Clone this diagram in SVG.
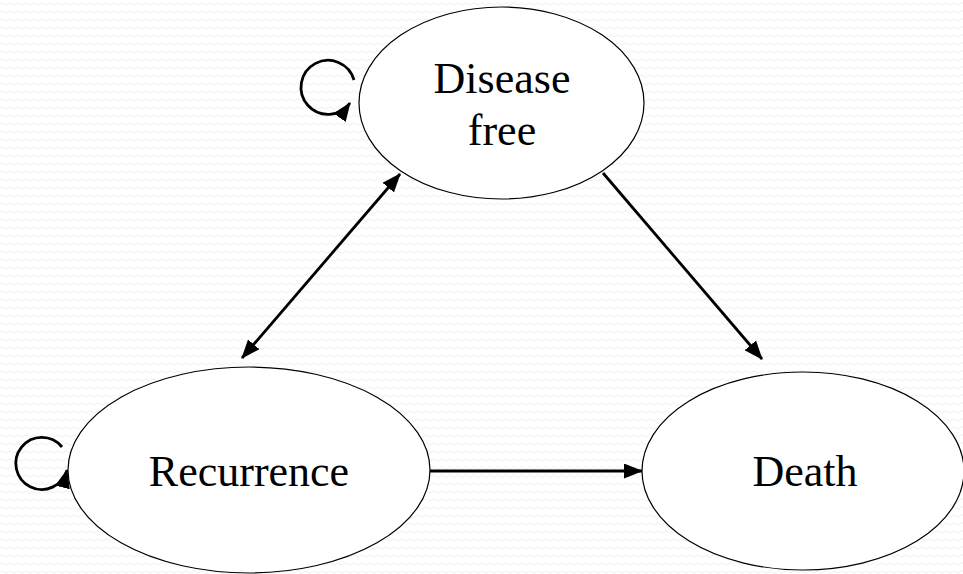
<svg xmlns="http://www.w3.org/2000/svg" width="963" height="574" viewBox="0 0 963 574">
  <style>
    .state { fill: #ffffff; stroke: #000000; stroke-width: 1.2; }
    .label { font-family: "Liberation Serif", "DejaVu Serif", serif; font-size: 44px; fill: #000000; text-anchor: middle; }
    .edge { fill: none; stroke: #000000; stroke-width: 2.8; }
  </style>
  <defs>
    <!-- faint wavy texture of the slide background -->
    <pattern id="wave" width="8" height="8" patternUnits="userSpaceOnUse">
      <path d="M0,4 Q2,1.5 4,4 T8,4" fill="none" stroke="#efefef" stroke-width="1"/>
    </pattern>
    <marker id="arrow" viewBox="0 0 19 15" refX="18" refY="7.5" markerUnits="userSpaceOnUse" markerWidth="19" markerHeight="15" orient="auto-start-reverse">
      <path d="M0,0 L19,7.5 L0,15 Z" fill="#000000"/>
    </marker>
  </defs>

  <rect width="963" height="574" fill="#ffffff"/>
  <rect width="963" height="574" fill="url(#wave)"/>

  <g id="connectors">
    <!-- Disease free <-> Recurrence -->
    <line class="edge" x1="242" y1="358" x2="400" y2="174" marker-start="url(#arrow)" marker-end="url(#arrow)"/>
    <!-- Disease free -> Death -->
    <line class="edge" x1="603" y1="173" x2="762" y2="359" marker-end="url(#arrow)"/>
    <!-- Recurrence -> Death -->
    <line class="edge" x1="430" y1="471" x2="642" y2="471" marker-end="url(#arrow)"/>
    <!-- self loops -->
    <path class="edge" d="M354,80 A27,27 0 1 0 350,103" marker-end="url(#arrow)"/>
    <path class="edge" d="M62,447 A26,26 0 1 0 67,470" marker-end="url(#arrow)"/>
  </g>

  <g id="disease-free">
    <ellipse class="state" cx="501.5" cy="103" rx="142.5" ry="96"/>
    <text class="label" x="502" y="93">Disease</text>
    <text class="label" x="502" y="145">free</text>
  </g>

  <g id="recurrence">
    <ellipse class="state" cx="249" cy="470" rx="181" ry="103"/>
    <text class="label" x="249" y="486">Recurrence</text>
  </g>

  <g id="death">
    <ellipse class="state" cx="803" cy="471" rx="161" ry="99"/>
    <text class="label" x="805" y="486">Death</text>
  </g>
</svg>
